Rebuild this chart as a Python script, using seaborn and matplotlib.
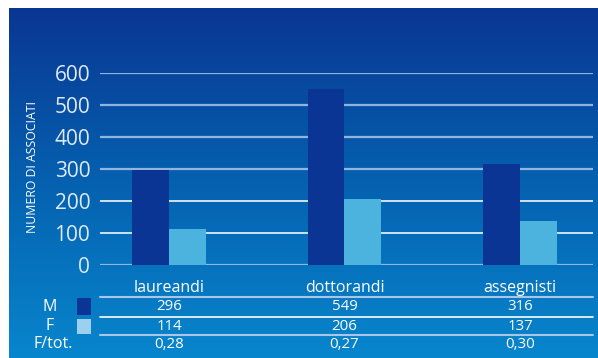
import numpy as np
import pandas as pd
import matplotlib
matplotlib.use("Agg")
import matplotlib.pyplot as plt
import matplotlib.transforms as mtransforms
from matplotlib.patches import Rectangle
from matplotlib.colors import LinearSegmentedColormap
import seaborn as sns

# Data
categories = ["laureandi", "dottorandi", "assegnisti"]
male = [296, 549, 316]
female = [114, 206, 137]
ratio_labels = ["0,28", "0,27", "0,30"]
yticks = [0, 100, 200, 300, 400, 500, 600]

sns.set_theme(style="white")
plt.rcParams["font.family"] = ["Open Sans", "DejaVu Sans"]

W, H = 598, 358
fig = plt.figure(figsize=(W / 100, H / 100), dpi=100)
fig.patch.set_facecolor("white")

def fx(px):
    return px / W

def fy(py):
    return (H - py) / H

# Blue gradient panel
bg = fig.add_axes([fx(9), 0, fx(W - 9), 1 - 8 / H], zorder=0)
cmap = LinearSegmentedColormap.from_list("panel", ["#0a3692", "#0561b0", "#0886cd"])
grad = np.linspace(0, 1, 256).reshape(-1, 1)
bg.imshow(grad, aspect="auto", cmap=cmap, extent=[0, 1, 0, 1], origin="upper")
bg.set_axis_off()

# Main plotting area
ax = fig.add_axes([fx(100), fy(265), fx(593 - 100), (265 - 73) / H], zorder=1)
ax.set_facecolor("none")

df = pd.DataFrame({
    "categoria": categories * 2,
    "sesso": ["M"] * 3 + ["F"] * 3,
    "valore": male + female,
})
sns.barplot(data=df, x="categoria", y="valore", hue="sesso", order=categories,
            hue_order=["M", "F"], palette={"M": "#0a3594", "F": "#4bb3dd"},
            width=0.42, gap=0, linewidth=0, saturation=1, legend=False, ax=ax,
            zorder=2)

ax.set_xlim(-0.393, 2.416)
ax.set_ylim(0, 600)

# Horizontal rules
for v in yticks:
    if v in (100, 200):
        ax.axhline(v, color="white", lw=1.2, alpha=0.95, zorder=1)
    else:
        ax.axhline(v, color="#a9c6e6", lw=1.6, alpha=0.85, zorder=1)

for s in ax.spines.values():
    s.set_visible(False)

ax.set_yticks(yticks)
ax.set_yticklabels([str(v) for v in yticks], fontsize=15, color="#dfeaf7")
ax.tick_params(axis="y", length=0, pad=7)
ax.tick_params(axis="x", length=0, pad=10.5, labelsize=11.5, labelcolor="white")
ax.set_xlabel("")
ax.set_ylabel("")

fig.text(fx(33), fy(167), "NUMERO DI ASSOCIATI", rotation=90, fontsize=8.8,
         color="white", ha="center", va="center")

# Table below the axis
trans = mtransforms.blended_transform_factory(ax.transData, fig.transFigure)
rows = [
    ([str(v) for v in male], 307),
    ([str(v) for v in female], 326),
    (ratio_labels, 344.5),
]
for labels, ypx in rows:
    for i, lab in enumerate(labels):
        ax.text(i, fy(ypx), lab, transform=trans, ha="center", va="center",
                fontsize=10.8, color="white", clip_on=False)

line_style = [(297, "#a9c6e6", 1.5), (316.5, "white", 1.2), (335, "#a9c6e6", 1.5)]
for ypx, col, lw in line_style:
    fig.add_artist(plt.Line2D([fx(100), fx(593)], [fy(ypx), fy(ypx)],
                              color=col, lw=lw, zorder=3))

# Row headers and swatches
fig.text(fx(50), fy(307), "M", fontsize=11.5, color="white", ha="center", va="center")
fig.text(fx(50), fy(326), "F", fontsize=11.5, color="white", ha="center", va="center")
fig.text(fx(53), fy(344.5), "F/tot.", fontsize=11.5, color="white", ha="center", va="center")
fig.add_artist(Rectangle((fx(77), fy(315)), fx(14), (315 - 298) / H,
                         transform=fig.transFigure, color="#0a3594", lw=0, zorder=3))
fig.add_artist(Rectangle((fx(77), fy(334)), fx(14), (334 - 319) / H,
                         transform=fig.transFigure, color="#9dd0ee", lw=0, zorder=3))

fig.savefig("out.png", dpi=100)
